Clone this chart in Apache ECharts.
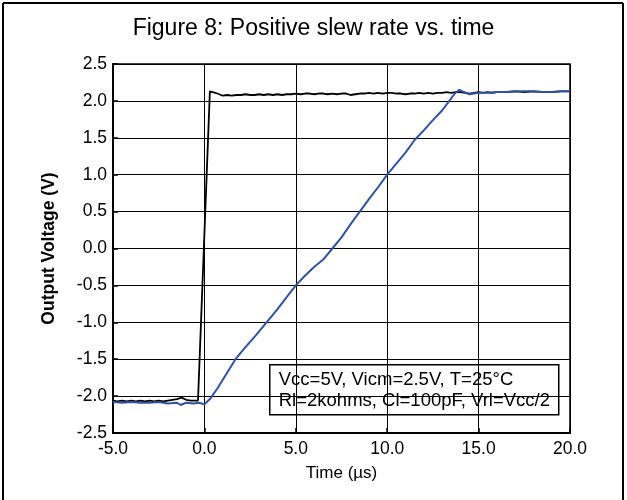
<!DOCTYPE html>
<html>
<head>
<meta charset="utf-8">
<script src="https://cdn.jsdelivr.net/npm/echarts@6/dist/echarts.min.js"></script>
<style>
html,body{margin:0;padding:0;background:#fff;}
#chart{width:627px;height:500px;}
</style>
</head>
<body>
<div id="chart"></div>
<script>
// ---- data ----
var titleText = 'Figure 8: Positive slew rate vs. time';
var xAxisName = 'Time (\u00b5s)';
var yAxisName = 'Output Voltage (V)';
var noteLines = ['Vcc=5V, Vicm=2.5V, T=25\u00b0C', 'Rl=2kohms, Cl=100pF, Vrl=Vcc/2'];

var inputTime = [-5, -4.75, -4.5, -4.25, -4, -3.75, -3.5, -3.25, -3, -2.75, -2.5, -2.25, -2, -1.75, -1.5, -1.25, -1.0, -0.75, -0.5, -0.35, 0.3, 0.6,
  1.0, 1.25, 1.5, 1.75, 2.0, 2.25, 2.5, 2.75, 3.0, 3.25, 3.5, 3.75, 4.0, 4.25, 4.5, 4.75, 5.0, 5.25, 5.5, 5.75, 6.0, 6.25, 6.5, 6.75, 7.0, 7.25, 7.5, 7.75,
  8.0, 8.25, 8.5, 8.75, 9.0, 9.25, 9.5, 9.75, 10.0, 10.25, 10.5, 10.75, 11.0, 11.25, 11.5, 11.75, 12.0, 12.25, 12.5, 12.75, 13.0, 13.25, 13.5, 13.75,
  14.0, 14.25, 14.5, 14.75, 15.0, 15.25, 15.5, 15.75, 16.0, 16.5, 17, 17.5, 18, 18.5, 19, 19.5, 20];
var inputVolt = [-2.06, -2.07, -2.06, -2.07, -2.06, -2.07, -2.06, -2.07, -2.06, -2.07, -2.06, -2.07, -2.06, -2.05, -2.04, -2.02, -2.05, -2.06, -2.06, -2.06, 2.13, 2.11,
  2.07, 2.08, 2.07, 2.08, 2.08, 2.09, 2.08, 2.08, 2.09, 2.08, 2.09, 2.08, 2.09, 2.08, 2.09, 2.09, 2.10, 2.09, 2.10, 2.10, 2.09, 2.10, 2.10, 2.09, 2.10, 2.09, 2.10, 2.10,
  2.08, 2.09, 2.10, 2.10, 2.11, 2.10, 2.11, 2.10, 2.11, 2.11, 2.10, 2.10, 2.09, 2.10, 2.10, 2.11, 2.10, 2.11, 2.10, 2.11, 2.11, 2.12, 2.11, 2.12,
  2.12, 2.11, 2.10, 2.11, 2.12, 2.11, 2.12, 2.11, 2.12, 2.12, 2.13, 2.12, 2.13, 2.12, 2.12, 2.13, 2.13];

var outputTime = [-5, -4.5, -4, -3.5, -3, -2.5, -2, -1.5, -1.3, -1.0, -0.6, -0.3, 0, 0.3, 0.7, 1.2, 1.7, 2.2, 2.8, 3.4, 4.0, 4.5, 5, 5.5, 6, 6.5, 7, 7.5, 8, 8.5, 9, 9.5, 10, 10.5, 11, 11.5, 12, 12.5, 13, 13.4, 13.7, 13.95, 14.2, 14.5, 15, 15.5, 16, 16.5, 17, 17.5, 18, 18.5, 19, 19.5, 20];
var outputVolt = [-2.08, -2.09, -2.08, -2.09, -2.09, -2.08, -2.10, -2.09, -2.12, -2.09, -2.10, -2.09, -2.11, -2.04, -1.90, -1.70, -1.50, -1.35, -1.18, -1.00, -0.82, -0.66, -0.50, -0.37, -0.25, -0.15, 0.00, 0.15, 0.33, 0.50, 0.67, 0.83, 1.00, 1.15, 1.30, 1.47, 1.60, 1.74, 1.87, 2.00, 2.10, 2.15, 2.12, 2.09, 2.11, 2.11, 2.12, 2.12, 2.13, 2.13, 2.13, 2.12, 2.12, 2.13, 2.13];

var xTicks = {min: -5, max: 20, interval: 5};
var yTicks = {min: -2.5, max: 2.5, interval: 0.5};

function pairs(xs, ys){ return xs.map(function(x, i){ return [x, ys[i]]; }); }

var chart = echarts.init(document.getElementById('chart'), null, {renderer: 'canvas'});
var font = 'Liberation Sans, Arial, sans-serif';
var G = {left: 113, top: 64, width: 457, height: 369};

chart.setOption({
  animation: false,
  backgroundColor: '#fff',
  title: {
    text: titleText, left: 'center', top: 12,
    textStyle: {fontFamily: font, fontSize: 23, fontWeight: 'normal', color: '#000'}
  },
  grid: {left: G.left, top: G.top, width: G.width, height: G.height, show: true, borderColor: '#000', borderWidth: 1.5, backgroundColor: 'transparent'},
  xAxis: {
    type: 'value', min: xTicks.min, max: xTicks.max, interval: xTicks.interval,
    name: xAxisName, nameLocation: 'middle', nameGap: 32,
    nameTextStyle: {fontFamily: font, fontSize: 17, color: '#000'},
    axisLine: {show: true, onZero: false, lineStyle: {color: '#000', width: 2}},
    axisTick: {show: true, inside: true, length: 5, lineStyle: {color: '#000', width: 1.5}},
    axisLabel: {fontFamily: font, fontSize: 17.5, color: '#000', margin: 7, formatter: function(v){ return v.toFixed(1); }},
    splitLine: {show: true, lineStyle: {color: '#000', width: 1}}
  },
  yAxis: {
    type: 'value', min: yTicks.min, max: yTicks.max, interval: yTicks.interval,
    name: yAxisName, nameLocation: 'middle', nameGap: 55, nameRotate: 90,
    nameTextStyle: {fontFamily: font, fontSize: 17.5, fontWeight: 'bold', color: '#000'},
    axisLine: {show: true, onZero: false, lineStyle: {color: '#000', width: 2}},
    axisTick: {show: true, inside: true, length: 5, lineStyle: {color: '#000', width: 1.5}},
    axisLabel: {fontFamily: font, fontSize: 17.5, color: '#000', margin: 6, formatter: function(v){ return v.toFixed(1); }},
    splitLine: {show: true, lineStyle: {color: '#000', width: 1}}
  },
  series: [
    {type: 'line', data: pairs(inputTime, inputVolt), showSymbol: false, symbol: 'none',
     lineStyle: {color: '#000', width: 1.8}, z: 3},
    {type: 'line', data: pairs(outputTime, outputVolt), showSymbol: false, symbol: 'none',
     lineStyle: {color: '#2f52a3', width: 2}, z: 4}
  ],
  graphic: [
    {type: 'line', shape: {x1: 3, y1: 3, x2: 623, y2: 3}, style: {stroke: '#000', lineWidth: 2}},
    {type: 'line', shape: {x1: 3, y1: 3, x2: 3, y2: 500}, style: {stroke: '#000', lineWidth: 2}},
    {type: 'line', shape: {x1: 623, y1: 3, x2: 623, y2: 500}, style: {stroke: '#000', lineWidth: 2}},
    {type: 'group', left: 269, top: 364, z: 100, children: [
      {type: 'rect', shape: {x: 0, y: 0, width: 289, height: 50}, style: {fill: '#fff', stroke: '#000', lineWidth: 1.5}},
      {type: 'text', left: 9, top: 6, style: {text: noteLines[0], font: '18.5px ' + font, fill: '#000'}},
      {type: 'text', left: 9, top: 27, style: {text: noteLines[1], font: '18.5px ' + font, fill: '#000'}}
    ]}
  ]
});
</script>
</body>
</html>
